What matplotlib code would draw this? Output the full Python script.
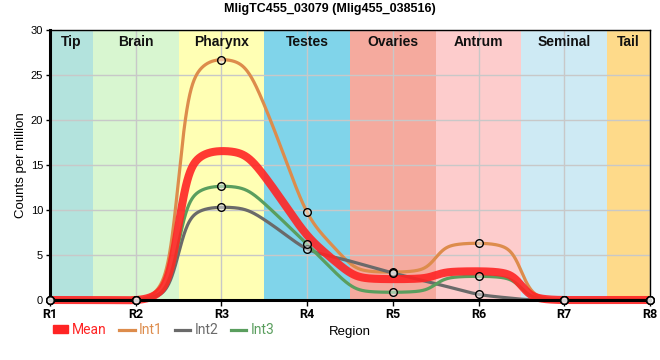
import numpy as np
import matplotlib
matplotlib.use("Agg")
import matplotlib.pyplot as plt
from matplotlib.lines import Line2D
from matplotlib.patches import Patch

plt.rcParams['font.family'] = ['Liberation Sans', 'DejaVu Sans']

title = "MligTC455_03079 (Mlig455_038516)"
regions = ["R1", "R2", "R3", "R4", "R5", "R6", "R7", "R8"]
bands = ["Tip", "Brain", "Pharynx", "Testes", "Ovaries", "Antrum", "Seminal", "Tail"]
band_colors = ["#b3e3dd", "#d8f6d0", "#ffffb4", "#80d4ea", "#f5aa9e", "#fdcccc", "#ceeaf4", "#feda8a"]
int1 = [0, 0, 26.7, 9.75, 3.1, 6.3, 0, 0]
int2 = [0, 0, 10.3, 5.67, 3.0, 0.63, 0, 0]
int3 = [0, 0, 12.63, 6.19, 0.86, 2.63, 0, 0]
mean = list(np.mean([int1, int2, int3], axis=0))

c_mean = "#ff2424"
c_int1 = "#dd8c4c"
c_int2 = "#6a6a6a"
c_int3 = "#5a9e5e"


def tangents(x, y):
    h = np.diff(x)
    s = np.diff(y) / h
    t = np.zeros(len(x))
    sg = lambda v: -1.0 if v < 0 else 1.0
    for i in range(1, len(x) - 1):
        s0, s1 = s[i - 1], s[i]
        p = (s0 * h[i] + s1 * h[i - 1]) / (h[i - 1] + h[i])
        t[i] = (sg(s0) + sg(s1)) * min(abs(s0), abs(s1), 0.5 * abs(p))
    t[0] = (3 * s[0] - t[1]) / 2
    t[-1] = (3 * s[-1] - t[-2]) / 2
    return t


def smooth_curve(x, y, ext_w=0.5, max_w=0.3, min_w=0.45, n=3000):
    """Smoothed line through the points: flat shoulders at local extrema,
    straight runs through monotone points, rounded corners."""
    x = np.asarray(x, float)
    y = np.asarray(y, float)
    t = tangents(x, y)
    ext = np.abs(t) < 1e-12
    vx, vy = [], []
    for i in range(len(x)):
        if ext[i]:
            def width(j):
                if j < 0 or j >= len(x) or ext[j]:
                    return ext_w
                return max_w if y[j] < y[i] else min_w
            wl, wr = width(i - 1), width(i + 1)
            vx += [x[i] - wl + 1e-6, x[i] + wr - 1e-6]
            vy += [y[i], y[i]]
        else:
            vx.append(x[i])
            vy.append(y[i])
    xs = np.linspace(x[0] - 1.5, x[-1] + 1.5, n)
    dx = xs[1] - xs[0]
    P = np.interp(xs, vx, vy)
    k = np.arange(-int(0.9 / dx), int(0.9 / dx) + 1) * dx
    ker = 0.6 * np.exp(-0.5 * (k / 0.09) ** 2) / 0.09 + 0.4 * np.exp(-0.5 * (k / 0.2) ** 2) / 0.2
    ker /= ker.sum()
    pad = len(k)
    Pp = np.concatenate([np.full(pad, P[0]), P, np.full(pad, P[-1])])
    S = np.convolve(Pp, ker, mode="same")[pad:-pad]
    res = y - np.interp(x, xs, S)
    for xi, ri in zip(x, res):
        S = S + ri * np.exp(-0.5 * ((xs - xi) / 0.2) ** 2)
    m = (xs >= x[0]) & (xs <= x[-1])
    return xs[m], S[m]


fig = plt.figure(figsize=(6.6, 3.6), dpi=100)
ax = fig.add_axes([50 / 660, 60 / 360, 600 / 660, 270 / 360])

xpos = np.arange(1, len(regions) + 1)
for i, (b, c) in enumerate(zip(bands, band_colors)):
    lo = max(xpos[i] - 0.5, 1)
    hi = min(xpos[i] + 0.5, len(regions))
    ax.axvspan(lo, hi, color=c, zorder=0.1, lw=0)
    ax.text((lo + hi) / 2, 0.955, b, transform=ax.get_xaxis_transform(),
            ha="center", va="center", fontsize=10, fontweight="bold", color="#111111")

ax.set_axisbelow(True)
ax.grid(True, color="#c8c8c8", lw=1)

for vals, col in [(int1, c_int1), (int2, c_int2), (int3, c_int3)]:
    xs, ys = smooth_curve(xpos, vals)
    ax.plot(xs, ys, color=col, lw=2.3, zorder=3, clip_on=False, solid_capstyle="butt")
xs, ys = smooth_curve(xpos, mean)
ax.plot(xs, ys, color=c_mean, lw=5.8, alpha=0.9, zorder=4, clip_on=False, solid_capstyle="butt")

for vals in (int1, int2, int3):
    ax.plot(xpos, vals, ls="none", marker="o", ms=5.5, mfc=(1, 1, 1, 0.45), mec="black",
            mew=1, zorder=6, clip_on=False)

ax.set_xlim(1, len(regions))
ax.set_ylim(0, 30)
ax.set_xticks(xpos)
ax.set_xticklabels(regions, fontsize=9, fontweight="bold", fontfamily="Roboto")
ax.set_yticks(np.arange(0, 31, 5))
ax.tick_params(axis="y", labelsize=8, length=3, width=1, pad=2)
ax.tick_params(axis="x", length=4, width=1, pad=2)

for sp in ("left", "bottom"):
    ax.spines[sp].set_linewidth(2.2)
for sp in ("top", "right"):
    ax.spines[sp].set_linewidth(1)
ax.spines["bottom"].set_zorder(5)

ax.set_ylabel("Counts per million", fontsize=9.5, labelpad=3)
fig.text(350 / 660, 1 - 332 / 360, "Region", ha="center", va="center", fontsize=9.5)
fig.text(330 / 660, 1 - 9 / 360, title, ha="center", va="center", fontsize=9, fontweight="bold")

handles = [Patch(color=c_mean), Line2D([], [], color=c_int1, lw=2.3),
           Line2D([], [], color=c_int2, lw=2.3), Line2D([], [], color=c_int3, lw=2.3)]
labels = ["Mean", "Int1", "Int2", "Int3"]
leg = fig.legend(handles, labels, loc="center left", bbox_to_anchor=(50 / 660, 1 - 330 / 360),
                 ncol=4, frameon=False, handlelength=1.1, handleheight=0.5,
                 handletextpad=0.3, columnspacing=0.9, borderaxespad=0, borderpad=0.2,
                 prop={"family": "Roboto", "size": 10})
for txt, col in zip(leg.get_texts(), [c_mean, c_int1, c_int2, c_int3]):
    txt.set_color(col)

fig.savefig("out.png", dpi=100)
